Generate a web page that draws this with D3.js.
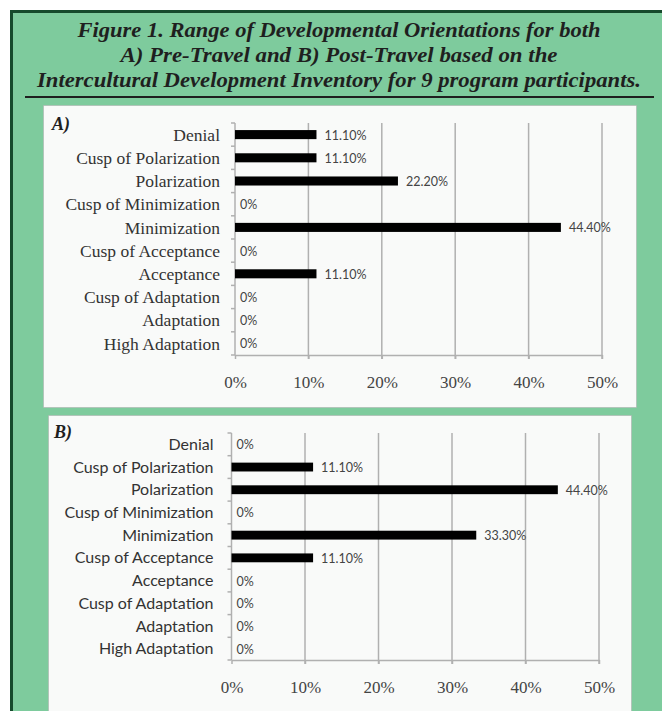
<!DOCTYPE html>
<html>
<head>
<meta charset="utf-8">
<script src="https://cdn.jsdelivr.net/npm/d3@7"></script>
<style>
  html, body { margin: 0; padding: 0; background: #fff; }
  svg { display: block; }
</style>
</head>
<body>
<div id="chart"></div>
<script>
// IDI developmental orientations, pre vs post travel (percent of 9 participants)
const categories = ['Denial', 'Cusp of Polarization', 'Polarization', 'Cusp of Minimization',
  'Minimization', 'Cusp of Acceptance', 'Acceptance', 'Cusp of Adaptation', 'Adaptation', 'High Adaptation'];
const preTravel = [11.1, 11.1, 22.2, 0, 44.4, 0, 11.1, 0, 0, 0];
const postTravel = [0, 11.1, 44.4, 0, 33.3, 11.1, 0, 0, 0, 0];
const xTicks = [0, 10, 20, 30, 40, 50];
const titleLines = [
  'Figure 1. Range of Developmental Orientations for both',
  'A) Pre-Travel and B) Post-Travel based on the',
  'Intercultural Development Inventory for 9 program participants.'
];

const W = 662, H = 711;
const svg = d3.select('#chart').append('svg')
  .attr('width', W)
  .attr('height', H);

// green frame
svg.append('rect')
  .attr('x', 11.5).attr('y', 11.5)
  .attr('width', W + 20).attr('height', H + 20)
  .attr('fill', '#7ecb9d')
  .attr('stroke', '#164a2c')
  .attr('stroke-width', 3);

// title
const titleWidths = [523, 437, 604];
const titleBase = [37, 62, 87];
titleLines.forEach((t, i) => {
  svg.append('text')
    .attr('x', 339)
    .attr('y', titleBase[i])
    .attr('text-anchor', 'middle')
    .attr('font-family', 'Liberation Serif, Times New Roman, serif')
    .attr('font-weight', 'bold')
    .attr('font-style', 'italic')
    .attr('font-size', 21)
    .attr('fill', '#1f1f1f')
    .attr('textLength', titleWidths[i])
    .attr('lengthAdjust', 'spacingAndGlyphs')
    .text(t);
});
svg.append('line')
  .attr('x1', 25).attr('x2', 654)
  .attr('y1', 97).attr('y2', 97)
  .attr('stroke', '#1f1f1f')
  .attr('stroke-width', 2);

function panel(opts) {
  const g = svg.append('g');

  g.append('rect')
    .attr('x', opts.box[0] + 0.5).attr('y', opts.box[1] + 0.5)
    .attr('width', opts.box[2]).attr('height', opts.box[3])
    .attr('fill', '#f9faf9')
    .attr('stroke', '#a8a8a8')
    .attr('stroke-dasharray', '1,1');

  g.append('text')
    .attr('x', opts.tag[0]).attr('y', opts.tag[1])
    .attr('font-family', 'Liberation Serif, serif')
    .attr('font-weight', 'bold')
    .attr('font-style', 'italic')
    .attr('font-size', 18)
    .attr('fill', '#1f1f1f')
    .text(opts.label);

  const x = d3.scaleLinear().domain([0, 50]).range(opts.xr);
  const y = d3.scaleBand().domain(categories).range(opts.yr)
    .paddingInner(0.61).paddingOuter(0.305);
  const top = opts.yr[0], bottom = opts.yr[1];

  // gridlines
  g.selectAll('.grid')
    .data(xTicks.slice(1))
    .enter().append('line')
    .attr('x1', d => x(d)).attr('x2', d => x(d))
    .attr('y1', top).attr('y2', bottom + 4)
    .attr('stroke', '#b0b0b0')
    .attr('stroke-width', 1.5);

  // x axis
  const xAxis = g.append('g')
    .attr('transform', `translate(0,${bottom})`)
    .call(d3.axisBottom(x).tickValues(xTicks).tickFormat(d => d + '%')
      .tickSizeInner(4).tickSizeOuter(0).tickPadding(17));
  xAxis.select('.domain').attr('stroke', '#b0b0b0').attr('stroke-width', 1.5);
  xAxis.selectAll('.tick line').attr('stroke', '#b0b0b0').attr('stroke-width', 1.5);
  xAxis.selectAll('.tick text')
    .attr('font-family', 'Liberation Serif, serif')
    .attr('font-size', 17)
    .attr('fill', '#444');

  // y axis with boundary ticks
  g.append('line')
    .attr('x1', x(0)).attr('x2', x(0))
    .attr('y1', top).attr('y2', bottom)
    .attr('stroke', '#b0b0b0')
    .attr('stroke-width', 1.5);
  g.selectAll('.ytick')
    .data(d3.range(categories.length + 1))
    .enter().append('line')
    .attr('x1', x(0) - 4).attr('x2', x(0))
    .attr('y1', i => top + i * y.step()).attr('y2', i => top + i * y.step())
    .attr('stroke', '#b0b0b0')
    .attr('stroke-width', 1.5);

  g.selectAll('.cat')
    .data(categories)
    .enter().append('text')
    .attr('x', x(0) - opts.labelGap)
    .attr('y', d => y(d) + y.bandwidth() / 2)
    .attr('dy', '0.35em')
    .attr('text-anchor', 'end')
    .attr('font-family', opts.catFont)
    .attr('font-size', opts.catSize)
    .attr('fill', '#333')
    .text(d => d);

  // bars
  g.selectAll('.bar')
    .data(opts.values)
    .enter().append('rect')
    .attr('x', x(0))
    .attr('y', (d, i) => y(categories[i]))
    .attr('width', d => x(d) - x(0))
    .attr('height', y.bandwidth())
    .attr('fill', '#000');

  g.selectAll('.val')
    .data(opts.values)
    .enter().append('text')
    .attr('x', d => d === 0 ? x(0) + 5 : x(d) + 8)
    .attr('y', (d, i) => y(categories[i]) + y.bandwidth() / 2)
    .attr('dy', '0.4em')
    .attr('font-family', 'Lato, Liberation Sans, sans-serif')
    .attr('font-size', 12.5)
    .attr('fill', '#444')
    .text(d => d === 0 ? '0%' : d.toFixed(2) + '%');
}

panel({
  label: 'A)', tag: [52, 130],
  box: [43, 105, 593, 302],
  xr: [235, 602], yr: [123, 355],
  values: preTravel,
  catFont: 'Liberation Serif, serif', catSize: 17.5, labelGap: 15
});

panel({
  label: 'B)', tag: [54, 438],
  box: [48, 415, 583, 310],
  xr: [231.5, 599], yr: [433, 660],
  values: postTravel,
  catFont: 'Lato, Liberation Sans, sans-serif', catSize: 16, labelGap: 18
});
</script>
</body>
</html>
